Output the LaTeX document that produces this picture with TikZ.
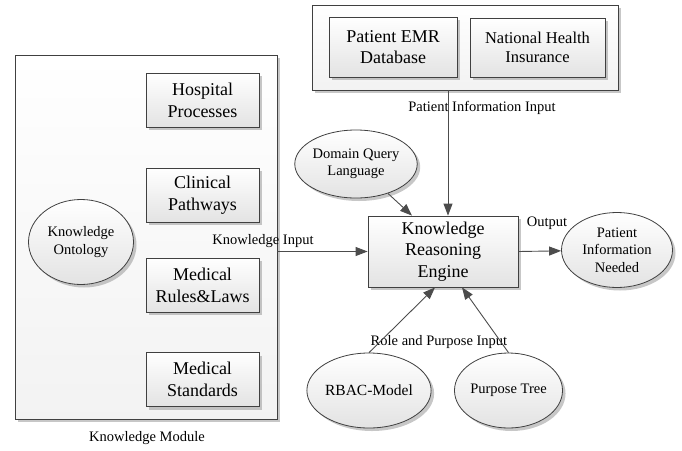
\documentclass[tikz,border=0pt]{standalone}
\usepackage{fontspec}
\setmainfont{Liberation Serif}
\usetikzlibrary{positioning,arrows.meta,calc,shapes.geometric,shadows}

\begin{document}
\begin{tikzpicture}[
  x=1pt, y=-1pt,
  font=\fontsize{14.5}{17.5}\selectfont,
  grp/.style={draw=black!75, line width=0.8pt, top color=white, bottom color=gray!10, inner sep=0pt,
    drop shadow={shadow xshift=3pt, shadow yshift=-3pt, opacity=0.55, fill=gray!80}},
  blk/.style={grp, bottom color=gray!22, align=center, font=\fontsize{18}{21.7}\selectfont},
  inbox/.style={blk, minimum width=113pt, minimum height=54pt},
  ell/.style={grp, ellipse, bottom color=gray!22, align=center},
  lbl/.style={font=\fontsize{14.5}{17.5}\selectfont, inner sep=1pt},
  flow/.style={-{Triangle[length=12pt,width=9pt]}, draw=black!70, line width=0.9pt}
]
\useasboundingbox (0,0) rectangle (682,450);
% ---- Knowledge module (left container) ----
\node[grp, minimum width=262pt, minimum height=364pt] (kmod) at (146,237) {};
\node[inbox] (hosp) at (202.5,100) {Hospital\\Processes};
\node[inbox] (clin) at (202.5,195) {Clinical\\Pathways};
\node[inbox] (rules) at (202.5,285) {Medical\\Rules\&Laws};
\node[inbox] (stds) at (202.5,379.5) {Medical\\Standards};
\node[ell, minimum width=105pt, minimum height=85pt] (onto) at (81,242) {Knowledge\\Ontology};
\node[lbl] (kmodlbl) at (147,438) {Knowledge Module};
% ---- Patient data sources (top container) ----
\node[grp, minimum width=306pt, minimum height=85pt] (src) at (465,47.5) {};
\node[blk, minimum width=128pt, minimum height=60pt] (emr) at (393,47) {Patient EMR\\Database};
\node[blk, minimum width=135pt, minimum height=59pt, font=\fontsize{16.5}{19.5}\selectfont] (nhi) at (537.5,47.5) {National Health\\Insurance};
% ---- Reasoning engine and its inputs / output ----
\node[blk, minimum width=150pt, minimum height=71pt] (eng) at (443,251.5) {Knowledge\\Reasoning\\Engine};
\node[ell, minimum width=106pt, minimum height=68pt] (dql) at (356,164) {Domain Query\\Language};
\node[ell, minimum width=111pt, minimum height=75pt] (need) at (617,250) {Patient\\Information\\Needed};
\node[ell, minimum width=106pt, minimum height=75pt, font=\fontsize{15.5}{18}\selectfont] (rbac) at (369,390.5) {RBAC-Model};
\node[ell, minimum width=107pt, minimum height=75pt] (ptree) at (508.5,390.5) {Purpose Tree};
% ---- Connector labels ----
\node[lbl] (pinlbl) at (482,108) {Patient Information Input};
\node[lbl] (kinlbl) at (263,241) {Knowledge Input};
\node[lbl] (outlbl) at (547,223) {Output};
\node[lbl] (rplbl) at (439,342) {Role and Purpose Input};
% ---- Flows ----
\draw[flow] ([xshift=5pt]eng.north |- src.south) -- ([xshift=5pt]eng.north);
\draw[flow] (dql) -- ([xshift=-31pt]eng.north);
\draw[flow] (kmod.east |- eng.west) -- (eng.west);
\draw[flow] (eng.east) -- (need);
\draw[flow] (rbac.north) -- ([xshift=-8pt]eng.south);
\draw[flow] (ptree.north) -- ([xshift=19pt]eng.south);
\end{tikzpicture}
\end{document}
